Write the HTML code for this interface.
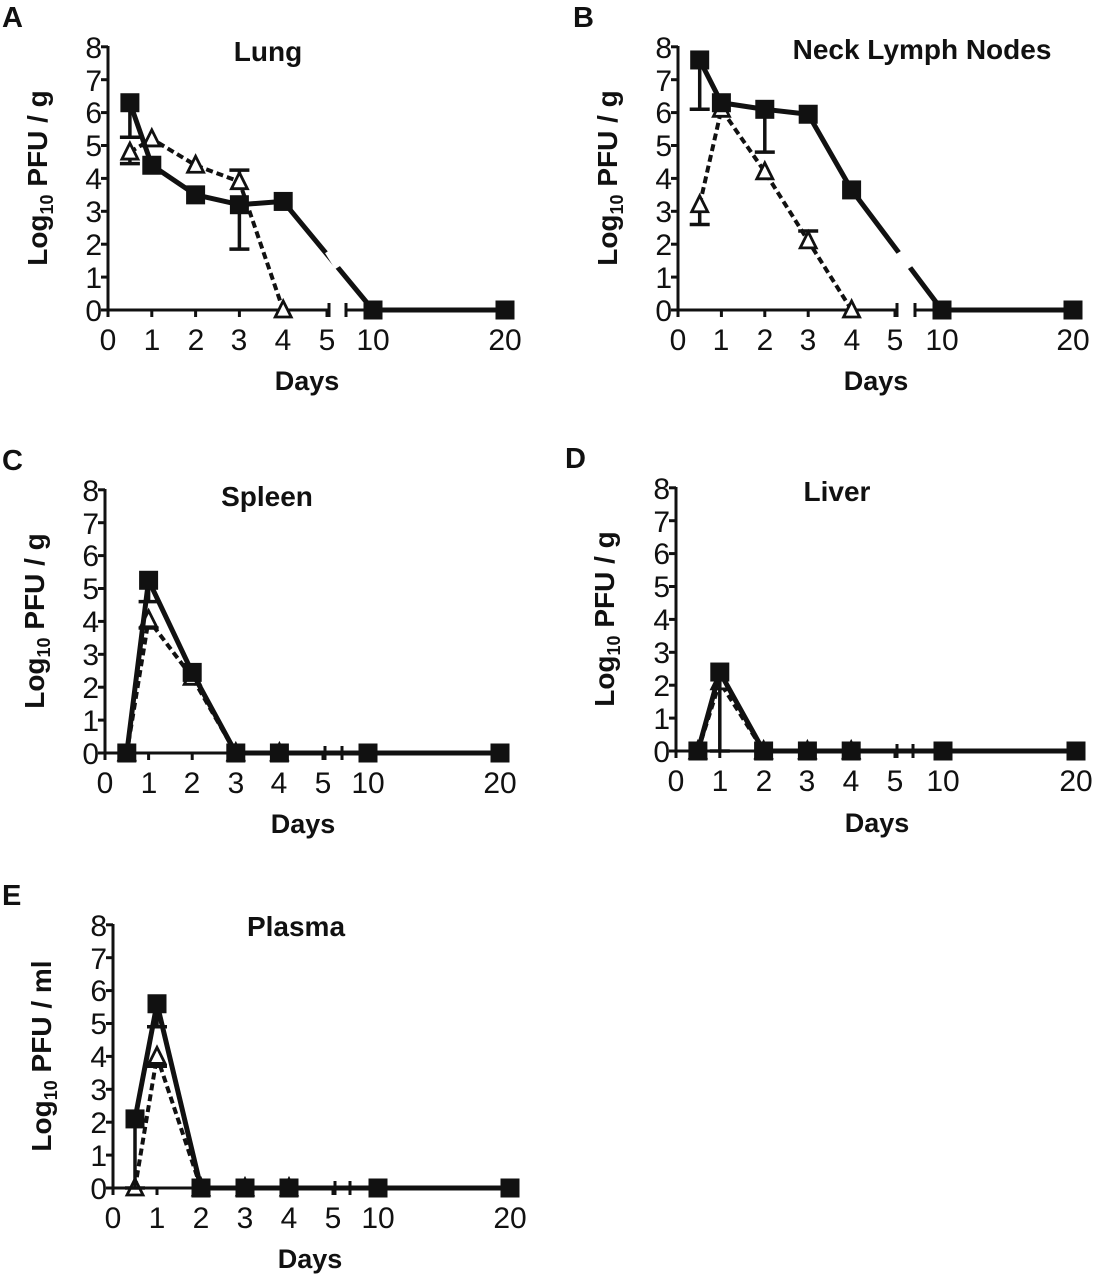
<!DOCTYPE html>
<html><head><meta charset="utf-8"><style>
body{margin:0;background:#fff}
svg{display:block}
text{font-family:"Liberation Sans",Arial,sans-serif;fill:#111}
.t{font-size:30px}
.b{font-weight:bold;font-size:28px}
.d{font-weight:bold;font-size:27px}
.L{font-weight:bold;font-size:29px}
</style></head><body>
<svg id="s" width="1095" height="1280" viewBox="0 0 1095 1280" xmlns="http://www.w3.org/2000/svg">
<g id="pA" transform="translate(2,0)">
<text class="L" x="0" y="27">A</text>
<text class="b" x="266" y="61" text-anchor="middle">Lung</text>
<text class="b" transform="translate(45,178) rotate(-90)" text-anchor="middle">Log<tspan font-size="18" dy="6">10</tspan><tspan dy="-6"> PFU / g</tspan></text>
<g class="t" text-anchor="end"><text x="100" y="321">0</text><text x="100" y="288">1</text><text x="100" y="255">2</text><text x="100" y="222">3</text><text x="100" y="189">4</text><text x="100" y="156">5</text><text x="100" y="123">6</text><text x="100" y="91">7</text><text x="100" y="58">8</text></g>
<g class="t" text-anchor="middle"><text x="106" y="350">0</text><text x="150" y="350">1</text><text x="194" y="350">2</text><text x="237" y="350">3</text><text x="281" y="350">4</text><text x="325" y="350">5</text><text x="371" y="350">10</text><text x="503" y="350">20</text></g>
<text class="d" x="305" y="390" text-anchor="middle">Days</text>
</g>
<g id="pB" transform="translate(572,0)">
<text class="L" x="1" y="27">B</text>
<text class="b" x="350" y="59" text-anchor="middle">Neck Lymph Nodes</text>
<text class="b" transform="translate(45,178) rotate(-90)" text-anchor="middle">Log<tspan font-size="18" dy="6">10</tspan><tspan dy="-6"> PFU / g</tspan></text>
<g class="t" text-anchor="end"><text x="100" y="321">0</text><text x="100" y="288">1</text><text x="100" y="255">2</text><text x="100" y="222">3</text><text x="100" y="189">4</text><text x="100" y="156">5</text><text x="100" y="123">6</text><text x="100" y="91">7</text><text x="100" y="58">8</text></g>
<g class="t" text-anchor="middle"><text x="106" y="350">0</text><text x="149" y="350">1</text><text x="193" y="350">2</text><text x="236" y="350">3</text><text x="280" y="350">4</text><text x="323" y="350">5</text><text x="370" y="350">10</text><text x="501" y="350">20</text></g>
<text class="d" x="304" y="390" text-anchor="middle">Days</text>
</g>
<g id="pC" transform="translate(-1,443)">
<text class="L" x="3" y="27">C</text>
<text class="b" x="268" y="63" text-anchor="middle">Spleen</text>
<text class="b" transform="translate(45,178) rotate(-90)" text-anchor="middle">Log<tspan font-size="18" dy="6">10</tspan><tspan dy="-6"> PFU / g</tspan></text>
<g class="t" text-anchor="end"><text x="100" y="321">0</text><text x="100" y="288">1</text><text x="100" y="255">2</text><text x="100" y="222">3</text><text x="100" y="189">4</text><text x="100" y="156">5</text><text x="100" y="123">6</text><text x="100" y="91">7</text><text x="100" y="58">8</text></g>
<g class="t" text-anchor="middle"><text x="106" y="350">0</text><text x="150" y="350">1</text><text x="193" y="350">2</text><text x="237" y="350">3</text><text x="280" y="350">4</text><text x="324" y="350">5</text><text x="369" y="350">10</text><text x="501" y="350">20</text></g>
<text class="d" x="304" y="390" text-anchor="middle">Days</text>
</g>
<g id="pD" transform="translate(570,441)">
<text class="L" x="-5" y="27">D</text>
<text class="b" x="267" y="60" text-anchor="middle">Liver</text>
<text class="b" transform="translate(44,178) rotate(-90)" text-anchor="middle">Log<tspan font-size="18" dy="6">10</tspan><tspan dy="-6"> PFU / g</tspan></text>
<g class="t" text-anchor="end"><text x="100" y="321">0</text><text x="100" y="288">1</text><text x="100" y="255">2</text><text x="100" y="222">3</text><text x="100" y="189">4</text><text x="100" y="156">5</text><text x="100" y="123">6</text><text x="100" y="91">7</text><text x="100" y="58">8</text></g>
<g class="t" text-anchor="middle"><text x="106" y="350">0</text><text x="150" y="350">1</text><text x="194" y="350">2</text><text x="237" y="350">3</text><text x="281" y="350">4</text><text x="325" y="350">5</text><text x="373" y="350">10</text><text x="506" y="350">20</text></g>
<text class="d" x="307" y="391" text-anchor="middle">Days</text>
</g>
<g id="pE" transform="translate(7,878)">
<text class="L" x="-5" y="27">E</text>
<text class="b" x="289" y="58" text-anchor="middle">Plasma</text>
<text class="b" transform="translate(44,178) rotate(-90)" text-anchor="middle">Log<tspan font-size="18" dy="6">10</tspan><tspan dy="-6"> PFU / ml</tspan></text>
<g class="t" text-anchor="end"><text x="100" y="321">0</text><text x="100" y="288">1</text><text x="100" y="255">2</text><text x="100" y="222">3</text><text x="100" y="189">4</text><text x="100" y="156">5</text><text x="100" y="123">6</text><text x="100" y="91">7</text><text x="100" y="58">8</text></g>
<g class="t" text-anchor="middle"><text x="106" y="350">0</text><text x="150" y="350">1</text><text x="194" y="350">2</text><text x="238" y="350">3</text><text x="282" y="350">4</text><text x="326" y="350">5</text><text x="371" y="350">10</text><text x="503" y="350">20</text></g>
<text class="d" x="303" y="390" text-anchor="middle">Days</text>
</g>
</svg>
<script>
var NS="http://www.w3.org/2000/svg";
function el(g,n,a){var e=document.createElementNS(NS,n);for(var k in a)e.setAttribute(k,a[k]);g.appendChild(e);return e;}
function Y(v){return 310-32.9*v;}
function panel(id,o,sq,tr){
 var dx=o.dx;
 function X(d){if(d<=5)return 106+dx*d;return d==10?o.x10:o.x20;}
 var g=document.getElementById(id);
 var st={stroke:"#111","stroke-width":3,fill:"none"};
 el(g,"line",Object.assign({x1:106,y1:46,x2:106,y2:311.5},st));
 for(var i=0;i<=8;i++)el(g,"line",Object.assign({x1:99,y1:Y(i),x2:106,y2:Y(i)},st));
 var e1=X(5)+2;
 el(g,"line",Object.assign({x1:105,y1:310,x2:e1,y2:310},st));
 el(g,"line",Object.assign({x1:o.s2,y1:310,x2:o.x20+8,y2:310},st));
 for(var d=0;d<=5;d++)el(g,"line",Object.assign({x1:X(d),y1:310,x2:X(d),y2:317},st));
 el(g,"line",Object.assign({x1:e1,y1:303,x2:e1,y2:317},st));
 el(g,"line",Object.assign({x1:o.s2,y1:303,x2:o.s2,y2:317},st));
 el(g,"line",Object.assign({x1:o.x10,y1:310,x2:o.x10,y2:317},st));
 el(g,"line",Object.assign({x1:o.x20,y1:310,x2:o.x20,y2:317},st));
 function series(data,dash,marker){
  var pts=data.map(function(p){return X(p[0])+","+Y(p[1]);}).join(" ");
  el(g,"polyline",{points:pts,fill:"none",stroke:"#111","stroke-width":dash?4:5,"stroke-dasharray":dash?"7,4":"none","stroke-linejoin":"round"});
  data.forEach(function(p){
   var x=X(p[0]),y=Y(p[1]);
   if(p[2]!==undefined){var y2=Y(p[2]);el(g,"line",{x1:x,y1:y,x2:x,y2:y2,stroke:"#111","stroke-width":3.5});el(g,"line",{x1:x-10,y1:y2,x2:x+10,y2:y2,stroke:"#111","stroke-width":3.5});}
   if(marker=="s")el(g,"rect",{x:x-9.5,y:y-9.5,width:19,height:19,fill:"#111"});
   else el(g,"polygon",{points:(x)+","+(y-9)+" "+(x-8)+","+(y+7)+" "+(x+8)+","+(y+7),fill:"#fff",stroke:"#111","stroke-width":2.8});
  });
 }
 series(tr,true,"t");series(sq,false,"s");
 if(o.gap){el(g,"line",{x1:o.gap-5,y1:o.gy-8,x2:o.gap+5,y2:o.gy+8,stroke:"#fff","stroke-width":14});}
}
panel("pA",{dx:43.8,x10:371,x20:503,s2:344,gap:334,gy:Y(1.6)},
 [[0.5,6.3,5.25],[1,4.4],[2,3.5],[3,3.2,1.85],[4,3.3],[10,0],[20,0]],
 [[0.5,4.8,4.45],[1,5.2],[2,4.4],[3,3.9,4.25],[4,0]]);
panel("pB",{dx:43.4,x10:370,x20:501,s2:343,gap:334,gy:Y(1.55)},
 [[0.5,7.6,6.1],[1,6.3],[2,6.1,4.8],[3,5.95],[4,3.65],[10,0],[20,0]],
 [[0.5,3.2,2.6],[1,6.1],[2,4.2],[3,2.1,2.4],[4,0]]);
panel("pC",{dx:43.6,x10:369,x20:501,s2:343},
 [[0.5,0],[1,5.25,4.6],[2,2.45],[3,0],[4,0],[10,0],[20,0]],
 [[0.5,0],[1,4.05,3.8],[2,2.3],[3,0],[4,0]]);
panel("pD",{dx:43.8,x10:373,x20:506,s2:343},
 [[0.5,0],[1,2.4,0],[2,0],[3,0],[4,0],[10,0],[20,0]],
 [[0.5,0],[1,2.1],[2,0],[3,0],[4,0]]);
panel("pE",{dx:44,x10:371,x20:503,s2:343},
 [[0.5,2.1,0],[1,5.6,4.9],[2,0],[3,0],[4,0],[10,0],[20,0]],
 [[0.5,0],[1,4.0,3.7],[2,0],[3,0],[4,0]]);
</script>
</body></html>
